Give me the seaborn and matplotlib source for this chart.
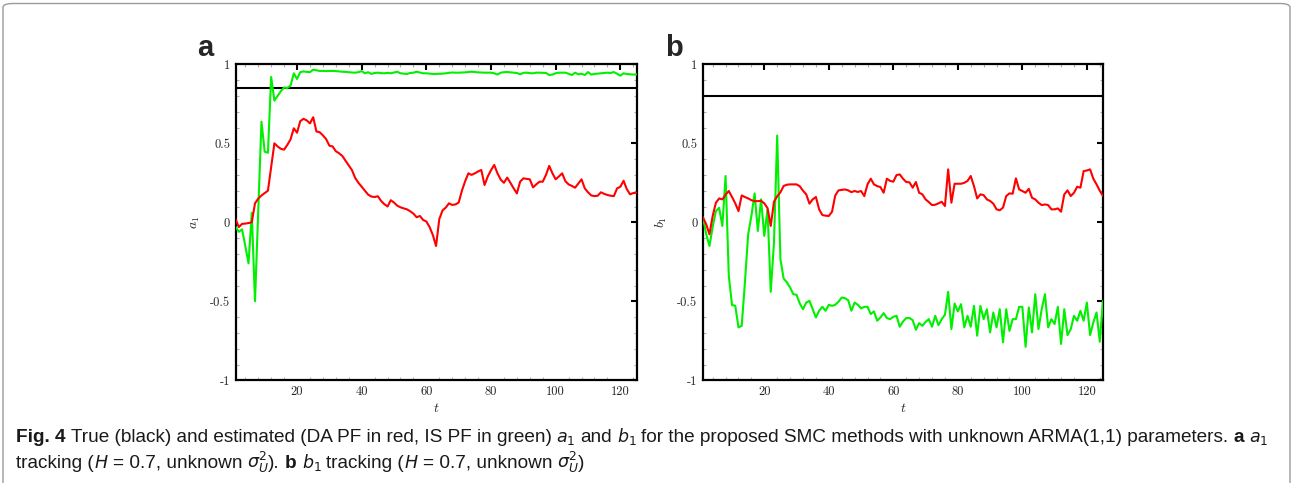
import numpy as np
import pandas as pd
import matplotlib
matplotlib.use("Agg")
import matplotlib.pyplot as plt
import seaborn as sns
from matplotlib.patches import FancyBboxPatch
from matplotlib.ticker import MultipleLocator
from matplotlib import font_manager

# ---------------- data ----------------
t = list(range(1, 126))
a1_true = 0.85
b1_true = 0.80

a1_da = [0.02, -0.03, -0.01, -0.008, -0.005, 0.0, 0.12, 0.15, 0.17, 0.185,
         0.2, 0.35, 0.5, 0.48, 0.465, 0.46, 0.49, 0.525, 0.595, 0.567,
         0.64, 0.655, 0.645, 0.626, 0.665, 0.575, 0.57, 0.55, 0.527, 0.485,
         0.48, 0.45, 0.437, 0.42, 0.39, 0.36, 0.33, 0.28, 0.25, 0.225,
         0.2, 0.175, 0.163, 0.16, 0.165, 0.135, 0.115, 0.1, 0.14, 0.125,
         0.105, 0.095, 0.088, 0.082, 0.07, 0.055, 0.032, 0.04, 0.015, 0.005,
         -0.03, -0.08, -0.15, 0.02, 0.075, 0.093, 0.12, 0.11, 0.113, 0.125,
         0.2, 0.26, 0.31, 0.3, 0.31, 0.322, 0.331, 0.236, 0.29, 0.33,
         0.363, 0.31, 0.27, 0.25, 0.283, 0.25, 0.215, 0.183, 0.257, 0.278,
         0.275, 0.272, 0.221, 0.24, 0.257, 0.257, 0.3, 0.357, 0.31, 0.272,
         0.29, 0.31, 0.26, 0.24, 0.23, 0.219, 0.245, 0.272, 0.215, 0.19,
         0.17, 0.166, 0.168, 0.19, 0.18, 0.173, 0.168, 0.166, 0.215, 0.225,
         0.263, 0.21, 0.177, 0.185, 0.187]

a1_is = [-0.028, -0.06, -0.045, -0.15, -0.26, 0.06, -0.5, 0.07, 0.637, 0.447,
         0.44, 0.92, 0.77, 0.8, 0.83, 0.853, 0.85, 0.865, 0.943, 0.907,
         0.95, 0.955, 0.952, 0.95, 0.966, 0.962, 0.958, 0.958, 0.957, 0.958,
         0.958, 0.957, 0.955, 0.953, 0.952, 0.95, 0.948, 0.947, 0.95, 0.957,
         0.943, 0.95, 0.939, 0.945, 0.947, 0.944, 0.943, 0.946, 0.943, 0.948,
         0.953, 0.943, 0.941, 0.939, 0.945, 0.947, 0.953, 0.948, 0.943, 0.943,
         0.941, 0.939, 0.939, 0.94, 0.941, 0.943, 0.946, 0.948, 0.947, 0.947,
         0.948, 0.949, 0.951, 0.953, 0.951, 0.949, 0.948, 0.947, 0.947, 0.947,
         0.943, 0.935, 0.947, 0.95, 0.951, 0.949, 0.947, 0.945, 0.937, 0.946,
         0.947, 0.944, 0.943, 0.947, 0.947, 0.946, 0.945, 0.932, 0.935, 0.943,
         0.947, 0.947, 0.947, 0.94, 0.932, 0.947, 0.937, 0.94, 0.932, 0.951,
         0.935, 0.939, 0.941, 0.943, 0.945, 0.947, 0.945, 0.951, 0.94, 0.928,
         0.943, 0.938, 0.937, 0.935, 0.935]

b1_da = [0.03, -0.013, -0.076, 0.04, 0.124, 0.151, 0.145, 0.175, 0.198, 0.16,
         0.12, 0.071, 0.17, 0.16, 0.151, 0.14, 0.134, 0.134, 0.136, 0.12,
         0.09, -0.023, 0.13, 0.165, 0.19, 0.23, 0.238, 0.24, 0.24, 0.24,
         0.228, 0.2, 0.177, 0.118, 0.145, 0.16, 0.082, 0.046, 0.042, 0.04,
         0.067, 0.17, 0.202, 0.205, 0.208, 0.202, 0.191, 0.198, 0.192, 0.198,
         0.166, 0.24, 0.276, 0.24, 0.229, 0.223, 0.187, 0.276, 0.262, 0.257,
         0.299, 0.303, 0.276, 0.255, 0.253, 0.219, 0.255, 0.187, 0.177, 0.145,
         0.128, 0.109, 0.111, 0.12, 0.13, 0.103, 0.335, 0.124, 0.244, 0.244,
         0.244, 0.25, 0.262, 0.293, 0.229, 0.151, 0.177, 0.172, 0.145, 0.135,
         0.118, 0.082, 0.076, 0.093, 0.166, 0.183, 0.181, 0.278, 0.208, 0.198,
         0.187, 0.212, 0.155, 0.145, 0.124, 0.109, 0.113, 0.109, 0.082, 0.082,
         0.088, 0.067, 0.177, 0.202, 0.166, 0.187, 0.225, 0.219, 0.324, 0.328,
         0.335, 0.276, 0.24, 0.2, 0.166]

b1_is = [0.03, -0.076, -0.15, -0.03, 0.071, 0.092, -0.023, 0.293, -0.339, -0.524,
         -0.528, -0.665, -0.655, -0.38, -0.076, 0.04, 0.183, -0.055, 0.145, -0.086,
         0.082, -0.44, -0.13, 0.549, -0.234, -0.356, -0.38, -0.413, -0.455, -0.459,
         -0.514, -0.55, -0.508, -0.497, -0.55, -0.602, -0.56, -0.535, -0.56, -0.522,
         -0.529, -0.522, -0.503, -0.476, -0.48, -0.493, -0.56, -0.508, -0.522, -0.545,
         -0.535, -0.535, -0.581, -0.564, -0.623, -0.602, -0.575, -0.606, -0.613, -0.598,
         -0.592, -0.661, -0.628, -0.606, -0.606, -0.619, -0.68, -0.638, -0.655, -0.63,
         -0.613, -0.661, -0.592, -0.651, -0.613, -0.585, -0.44, -0.676, -0.514, -0.564,
         -0.518, -0.665, -0.592, -0.661, -0.529, -0.718, -0.529, -0.613, -0.55, -0.697,
         -0.571, -0.665, -0.55, -0.76, -0.55, -0.687, -0.613, -0.613, -0.535, -0.535,
         -0.788, -0.539, -0.697, -0.455, -0.676, -0.55, -0.455, -0.665, -0.613, -0.644,
         -0.535, -0.77, -0.55, -0.714, -0.676, -0.592, -0.623, -0.56, -0.623, -0.508,
         -0.714, -0.634, -0.571, -0.756, -0.497]

xticks = [20, 40, 60, 80, 100, 120]
xtick_labels = ["20", "40", "60", "80", "100", "120"]
yticks = [-1, -0.5, 0, 0.5, 1]
ytick_labels = ["-1", "-0.5", "0", "0.5", "1"]
panel_labels = ["a", "b"]
ylabels = ["$a_1$", "$b_1$"]

RED = "#ff0000"
GREEN = "#00f000"

# ---------------- style ----------------
sns.set_theme(style="white")
plt.rcParams["axes.unicode_minus"] = False
plt.rcParams["font.family"] = ["DejaVu Sans"]

W, H = 1294, 483
fig = plt.figure(figsize=(W / 100, H / 100), dpi=100)
fig.patch.set_facecolor("white")

# outer rounded frame
frame = FancyBboxPatch((3 / W, -0.05), (W - 7) / W, 1.05 - 3.5 / H,
                       boxstyle="round,pad=0,rounding_size=0.008",
                       transform=fig.transFigure, facecolor="none",
                       edgecolor="#9a9a9a", linewidth=1.0, zorder=0)
fig.patches.append(frame)

axes_px = [(235.6, 636.5), (703.0, 1103.0)]
top_px, bot_px = 64.3, 380.3

df = pd.DataFrame({"t": t, "a1_da": a1_da, "a1_is": a1_is,
                   "b1_da": b1_da, "b1_is": b1_is})
series = [("a1_da", "a1_is", a1_true), ("b1_da", "b1_is", b1_true)]

for i, ((l, r), (da, is_, tv)) in enumerate(zip(axes_px, series)):
    ax = fig.add_axes([l / W, (H - bot_px) / H, (r - l) / W, (bot_px - top_px) / H])
    ax.set_facecolor("white")
    ax.axhline(tv, color="black", lw=1.5, zorder=2)
    sns.lineplot(data=df, x="t", y=is_, ax=ax, color=GREEN, lw=1.5,
                 estimator=None, sort=False, zorder=3)
    sns.lineplot(data=df, x="t", y=da, ax=ax, color=RED, lw=1.5,
                 estimator=None, sort=False, zorder=4)
    ax.set_xlim(1, 125)
    ax.set_ylim(-1, 1)
    ax.set_xticks(xticks)
    ax.set_xticklabels(xtick_labels, fontfamily="cmr10", fontsize=9)
    ax.set_yticks(yticks)
    ax.set_yticklabels(ytick_labels, fontfamily="cmr10", fontsize=9)
    ax.xaxis.set_minor_locator(MultipleLocator(4))
    ax.yaxis.set_minor_locator(MultipleLocator(0.1))
    ax.tick_params(which="major", direction="in", length=4, width=1.5,
                   color="black", top=True, right=True, pad=4)
    ax.tick_params(which="minor", direction="in", length=2.5, width=0.8,
                   color="#b0b0b0", top=True, right=True, bottom=True, left=True)
    for s in ax.spines.values():
        s.set_visible(True)
        s.set_color("black")
        s.set_linewidth(1.6)
    ax.set_xlabel("$t$", fontsize=10, math_fontfamily="cm", labelpad=2)
    ax.set_ylabel(ylabels[i], fontsize=10, math_fontfamily="cm", labelpad=6)
    ax.grid(False)
    fig.text((l - 38) / W, 1 - 56 / H, panel_labels[i], fontsize=21,
             fontweight="bold", family="Liberation Sans", va="baseline")

# ---------------- caption ----------------
names = {f.name for f in font_manager.fontManager.ttflist}
cap_font = "Liberation Sans Narrow" if "Liberation Sans Narrow" in names else "Liberation Sans"

fig.canvas.draw()
rend = fig.canvas.get_renderer()

line1 = [("Fig. 4", "b"), (" True (black) and estimated (DA PF in red, IS PF in green) ", "n"),
         ("$a_1$", "m"), (" and ", "n"), ("$b_1$", "m"),
         (" for the proposed SMC methods with unknown ARMA(1,1) parameters. ", "n"),
         ("a", "b"), (" ", "n"), ("$a_1$", "m")]
line2 = [("tracking (", "n"), ("$H$", "m"), (" = 0.7, unknown ", "n"),
         ("$\\sigma_U^2$", "m"), ("). ", "n"), ("b", "b"), (" ", "n"), ("$b_1$", "m"),
         (" tracking (", "n"), ("$H$", "m"), (" = 0.7, unknown ", "n"),
         ("$\\sigma_U^2$", "m"), (")", "n")]


def kw_for(kind, fs):
    kw = dict(fontsize=fs, family=cap_font, color="#1a1a1a")
    if kind == "b":
        kw["fontweight"] = "bold"
    if kind == "m":
        kw["math_fontfamily"] = "dejavusans"
        kw["fontsize"] = fs * 0.92
    return kw


def text_w(s, kw):
    tx = fig.text(0, 0, s, **kw)
    bb = tx.get_window_extent(rend)
    tx.remove()
    return bb.width


def piece_w(s, kind, fs):
    kw = kw_for(kind, fs)
    if kind == "m":
        return text_w(s, kw) - 1.0
    return text_w("|" + s + "|", kw) - text_w("||", kw)


fs0 = 10.0
w1 = sum(piece_w(s, k, fs0) for s, k in line1)
cap_fs = fs0 * (1262.0 / w1)


def place(line, y_px):
    x = 16.0
    for s, k in line:
        kw = kw_for(k, cap_fs)
        if s.strip():
            lead = piece_w(s[:len(s) - len(s.lstrip())], "n", cap_fs) if s[0] == " " else 0.0
            fig.text((x + lead) / W, 1 - y_px / H, s.strip() if k != "m" else s,
                     va="baseline", ha="left", **kw)
        x += piece_w(s, k, cap_fs)


place(line1, 442)
place(line2, 468)

fig.savefig("out.png", dpi=100, facecolor="white")
